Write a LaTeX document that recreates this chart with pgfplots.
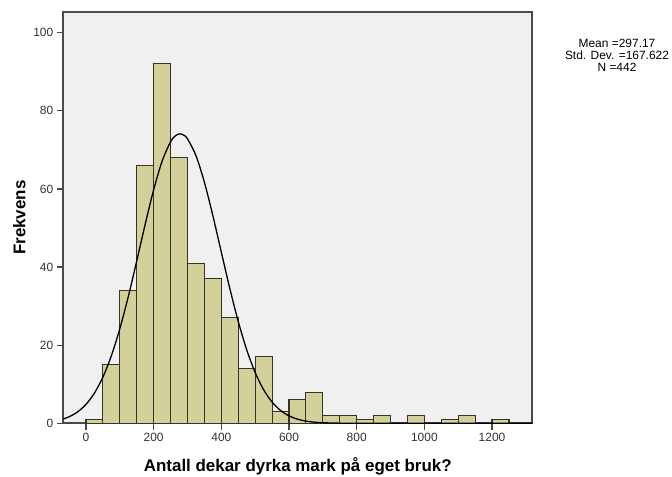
\documentclass[border=0pt]{standalone}
\usepackage{fontspec}
\setmainfont{Liberation Sans}
\usepackage{pgfplots}
\pgfplotsset{compat=1.18}
\definecolor{bgcol}{HTML}{F0F0F0}
\definecolor{barcol}{HTML}{D4D09A}
\definecolor{framecol}{HTML}{4A4A4A}
\definecolor{edgecol}{HTML}{34342A}
\definecolor{tickcol}{HTML}{333333}
\begin{document}
\begin{tikzpicture}
\useasboundingbox (0,0) rectangle (672bp,477bp);
\begin{axis}[
  at={(63.3bp,53.7bp)}, anchor=south west,
  scale only axis, width=469bp, height=411.3bp,
  xmin=-67, xmax=1319, ymin=0, ymax=105.3,
  axis background/.style={fill=bgcol},
  axis line style={draw=framecol, line width=1.7bp},
  tick pos=left, tick align=outside,
  major tick length=6.5bp,
  tick style={draw=framecol, line width=1.3bp},
  xtick={0,200,400,600,800,1000,1200},
  ytick={0,20,40,60,80,100},
  /pgf/number format/assume math mode=true,
  /pgf/number format/1000 sep={},
  tick label style={font=\fontsize{12}{14}\selectfont, text=tickcol},
  every axis x label/.style={at={(axis description cs:0.5,0)}, yshift=-43.5bp, anchor=center},
  every axis y label/.style={at={(axis description cs:0,0.5)}, xshift=-44bp, rotate=90, anchor=center},
  label style={font=\bfseries\fontsize{17}{19}\selectfont, text=black},
  xlabel={Antall dekar dyrka mark på eget bruk?},
  ylabel={Frekvens},
  clip=false,
]
\addplot[ybar interval, fill=barcol, draw=edgecol, line width=1.1bp] coordinates {
(0,1) (50,15) (100,34) (150,66) (200,92) (250,68) (300,41) (350,37)
(400,27) (450,14) (500,17) (550,3) (600,6) (650,8) (700,2) (750,2)
(800,1) (850,2) (900,0) (950,2) (1000,0) (1050,1) (1100,2) (1150,0)
(1200,1) (1250,1)
};
\addplot[black, line width=1.3bp, smooth] coordinates {
(-67,1.11) (-50,1.66) (-25,2.90) (0,4.84) (25,7.73) (50,11.82) (75,17.29)
(100,24.21) (125,32.42) (150,41.55) (175,50.95) (200,59.78) (225,67.10)
(250,72.08) (265,73.66) (278,74.10) (290,73.72) (300,72.84) (325,68.54)
(350,61.71) (375,53.15) (400,43.81) (425,34.55) (450,26.07) (475,18.82)
(500,13.00) (525,8.60) (550,5.44) (575,3.29) (600,1.91) (625,1.06)
(650,0.56) (675,0.28) (700,0.14) (750,0.03) (800,0.00) (1319,0.00)
};
\node[align=center, font=\fontsize{12}{12.5}\selectfont, text=black, anchor=center]
  at (rel axis cs:1.1806,0.8947) {Mean =297.17\\Std. Dev. =167.622\\N =442};
\end{axis}
\end{tikzpicture}
\end{document}
